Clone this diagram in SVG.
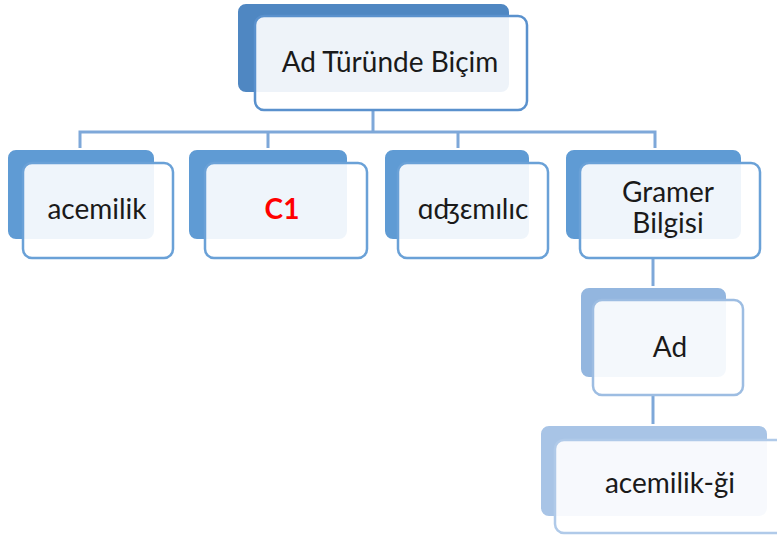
<svg xmlns="http://www.w3.org/2000/svg" width="777" height="539" viewBox="0 0 777 539">
  <style>
    .back { stroke: #ffffff; stroke-width: 2; }
    .front { fill: #ffffff; fill-opacity: 0.9; stroke-width: 2.5; }
    .lbl { font-family: Lato, "Noto Sans", "DejaVu Sans", sans-serif; font-size: 28px; fill: #1a1a1a; text-anchor: middle; }
    .wire { fill: none; stroke: #7ea8d9; stroke-width: 3; }
    .l0 .back { fill: #4f87c2; } .l0 .front { stroke: #5a91cd; }
    .l1 .back { fill: #5f9bd4; } .l1 .front { stroke: #6aa1d7; }
    .l2 .back { fill: #93b6df; } .l2 .front { stroke: #9dbde2; }
    .l3 .back { fill: #a8c4e6; } .l3 .front { stroke: #b0cae9; }
  </style>

  <!-- connectors -->
  <g id="connectors">
    <path class="wire" d="M373 110 V132 M80 148 V132 H655 V148 M268 132 V148 M458 132 V148"/>
    <path class="wire" d="M653 258 V287"/>
    <path class="wire" d="M653 395 V425"/>
  </g>

  <!-- root -->
  <g id="node-root" class="l0">
    <rect class="back" x="237" y="3" width="273" height="90" rx="9"/>
    <rect class="front" x="255" y="16" width="272" height="94" rx="9"/>
    <text class="lbl" x="390" y="72">Ad Türünde Biçim</text>
  </g>

  <!-- first level -->
  <g id="node-acemilik" class="l1">
    <rect class="back" x="7" y="149" width="148" height="91" rx="9"/>
    <rect class="front" x="23" y="163" width="150" height="95" rx="9"/>
    <text class="lbl" x="97" y="219">acemilik</text>
  </g>
  <g id="node-c1" class="l1">
    <rect class="back" x="188" y="149" width="160" height="91" rx="9"/>
    <rect class="front" x="205" y="163" width="162" height="95" rx="9"/>
    <text class="lbl" x="282" y="219" style="fill:#ff0000;font-weight:bold">C1</text>
  </g>
  <g id="node-ipa" class="l1">
    <rect class="back" x="384" y="149" width="146" height="91" rx="9"/>
    <rect class="front" x="398" y="163" width="150" height="95" rx="9"/>
    <text class="lbl" x="473" y="219">ɑʤɛmɪlɪc</text>
  </g>
  <g id="node-gramer" class="l1">
    <rect class="back" x="565" y="149" width="177" height="91" rx="9"/>
    <rect class="front" x="580" y="163" width="180" height="95" rx="9"/>
    <text class="lbl" x="668" y="202">Gramer</text>
    <text class="lbl" x="668" y="233">Bilgisi</text>
  </g>

  <!-- second level -->
  <g id="node-ad" class="l2">
    <rect class="back" x="580" y="287" width="147" height="91" rx="9"/>
    <rect class="front" x="593" y="300" width="150" height="95" rx="9"/>
    <text class="lbl" x="670" y="357">Ad</text>
  </g>

  <!-- third level -->
  <g id="node-acemilik-gi" class="l3">
    <rect class="back" x="540" y="425" width="228" height="92" rx="9"/>
    <rect class="front" x="555" y="440" width="240" height="93" rx="9"/>
    <text class="lbl" x="670" y="493">acemilik-ği</text>
  </g>
</svg>
